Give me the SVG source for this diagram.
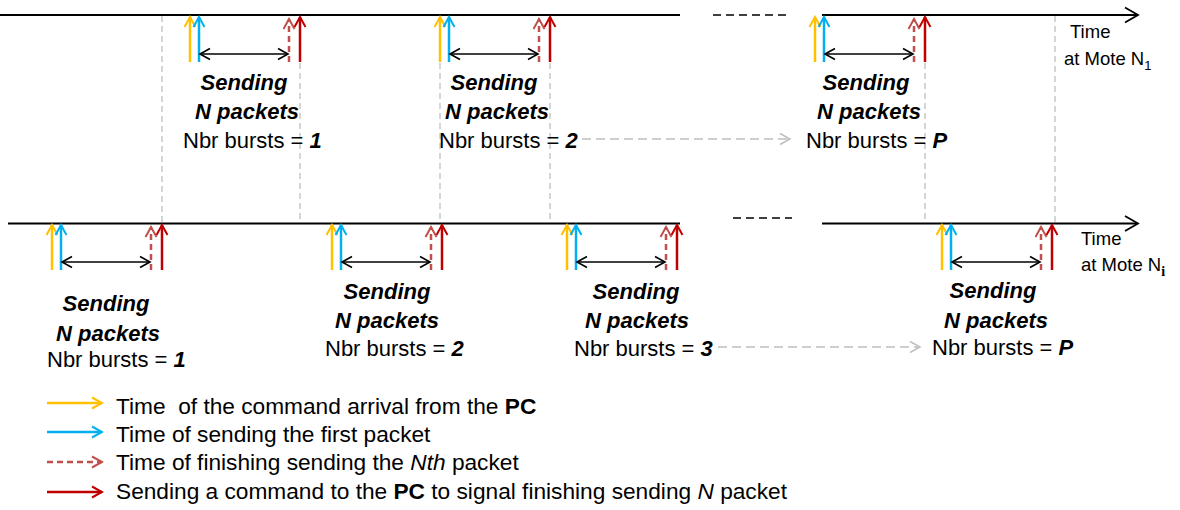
<svg xmlns="http://www.w3.org/2000/svg" xmlns:xlink="http://www.w3.org/1999/xlink" width="1180" height="510" viewBox="0 0 1180 510">
<style>
.t{font-family:"Liberation Sans",Arial,sans-serif;font-size:22px;fill:#000}
.bi{font-weight:bold;font-style:italic}
.b{font-weight:bold}
.i{font-style:italic}
.ax{font-family:"Liberation Sans",Arial,sans-serif;font-size:18.5px;fill:#000}
.leg{font-family:"Liberation Sans",Arial,sans-serif;font-size:22.7px;fill:#000;white-space:pre}
.tl{stroke:#000;stroke-width:2;fill:none}
.tld{stroke:#000;stroke-width:1.5;stroke-dasharray:8 5;fill:none}
.gv{stroke:#BFBFBF;stroke-width:1.3;stroke-dasharray:6 4;fill:none}
.ga{stroke:#BFBFBF;stroke-width:1.5;stroke-dasharray:9 5;fill:none}
.y{stroke:#FFC000;stroke-width:2.5;fill:none}
.c{stroke:#00B0F0;stroke-width:2.5;fill:none}
.rd{stroke:#C0504D;stroke-width:2.5;stroke-dasharray:6 4;fill:none}
.r{stroke:#C00000;stroke-width:2.5;fill:none}
.k{stroke:#000;stroke-width:1.6;fill:none}
</style>
<defs>
<marker id="mY" viewBox="0 0 14 14" refX="12" refY="7" markerWidth="14" markerHeight="14" markerUnits="userSpaceOnUse" orient="auto"><path d="M2,1.5 L12,7 L2,12.5" fill="none" stroke="#FFC000" stroke-width="2"/></marker>
<marker id="mC" viewBox="0 0 14 14" refX="12" refY="7" markerWidth="14" markerHeight="14" markerUnits="userSpaceOnUse" orient="auto"><path d="M2,1.5 L12,7 L2,12.5" fill="none" stroke="#00B0F0" stroke-width="2"/></marker>
<marker id="mRD" viewBox="0 0 14 14" refX="12" refY="7" markerWidth="14" markerHeight="14" markerUnits="userSpaceOnUse" orient="auto"><path d="M2,1.5 L12,7 L2,12.5" fill="none" stroke="#C0504D" stroke-width="2"/></marker>
<marker id="mR" viewBox="0 0 14 14" refX="12" refY="7" markerWidth="14" markerHeight="14" markerUnits="userSpaceOnUse" orient="auto"><path d="M2,1.5 L12,7 L2,12.5" fill="none" stroke="#C00000" stroke-width="2"/></marker>
<marker id="mK" viewBox="0 0 14 14" refX="12" refY="7" markerWidth="14" markerHeight="14" markerUnits="userSpaceOnUse" orient="auto-start-reverse"><path d="M2,1.5 L12,7 L2,12.5" fill="none" stroke="#000" stroke-width="1.6"/></marker>
<marker id="mT" viewBox="0 0 18 18" refX="16" refY="9" markerWidth="18" markerHeight="18" markerUnits="userSpaceOnUse" orient="auto"><path d="M3,1.5 L16,9 L3,16.5" fill="none" stroke="#000" stroke-width="1.8"/></marker>
<marker id="mG" viewBox="0 0 14 14" refX="12" refY="7" markerWidth="14" markerHeight="14" markerUnits="userSpaceOnUse" orient="auto"><path d="M2,1.5 L12,7 L2,12.5" fill="none" stroke="#BFBFBF" stroke-width="1.5"/></marker>
<g id="burst">
<line class="y" x1="0" y1="47" x2="0" y2="2" marker-end="url(#mY)"/>
<line class="c" x1="9" y1="47" x2="9" y2="2" marker-end="url(#mC)"/>
<line class="rd" x1="99" y1="47" x2="99" y2="4" marker-end="url(#mRD)"/>
<line class="r" x1="110" y1="47" x2="110" y2="2" marker-end="url(#mR)"/>
<line class="k" x1="10" y1="39" x2="98" y2="39" marker-start="url(#mK)" marker-end="url(#mK)"/>
</g>
</defs>

<g id="connectors">
<line class="tl" x1="0" y1="15" x2="680" y2="15"/>
<line class="tld" x1="713" y1="15" x2="790" y2="15"/>
<line class="tl" x1="822" y1="15" x2="1138" y2="15" marker-end="url(#mT)"/>
<line class="tl" x1="8" y1="223.5" x2="680" y2="223.5"/>
<line class="tld" x1="733" y1="218" x2="792" y2="218"/>
<line class="tl" x1="822" y1="223.5" x2="1138" y2="223.5" marker-end="url(#mT)"/>
<line class="gv" x1="162" y1="16" x2="162" y2="222"/>
<line class="gv" x1="300" y1="63" x2="300" y2="222"/>
<line class="gv" x1="440" y1="63" x2="440" y2="222"/>
<line class="gv" x1="550" y1="63" x2="550" y2="222"/>
<line class="gv" x1="925" y1="63" x2="925" y2="222"/>
<line class="gv" x1="1055" y1="16" x2="1055" y2="222"/>
<line class="ga" x1="582" y1="139" x2="790" y2="139" marker-end="url(#mG)"/>
<line class="ga" x1="718" y1="347" x2="920" y2="347" marker-end="url(#mG)"/>
</g>

<g id="axis-top">
<text class="ax" x="1070" y="38">Time</text>
<text class="ax" x="1064" y="65">at Mote N<tspan font-size="13" dy="5">1</tspan></text>
</g>
<g id="axis-bottom">
<text class="ax" x="1081" y="245">Time</text>
<text class="ax" x="1081" y="271">at Mote N<tspan font-size="14" dy="5" font-family="'Liberation Serif',serif" font-weight="bold">i</tspan></text>
</g>

<g id="top-burst-1">
<use href="#burst" x="190" y="15"/>
<text class="t bi" x="244" y="90" text-anchor="middle">Sending</text>
<text class="t bi" x="247" y="119" text-anchor="middle">N packets</text>
<text class="t" x="183" y="148">Nbr bursts = <tspan class="bi">1</tspan></text>
</g>
<g id="top-burst-2">
<use href="#burst" x="440" y="15"/>
<text class="t bi" x="494" y="90" text-anchor="middle">Sending</text>
<text class="t bi" x="497" y="119" text-anchor="middle">N packets</text>
<text class="t" x="439" y="148">Nbr bursts = <tspan class="bi">2</tspan></text>
</g>
<g id="top-burst-P">
<use href="#burst" x="815" y="15"/>
<text class="t bi" x="866" y="90" text-anchor="middle">Sending</text>
<text class="t bi" x="869" y="119" text-anchor="middle">N packets</text>
<text class="t" x="806" y="148">Nbr bursts = <tspan class="bi">P</tspan></text>
</g>

<g id="bottom-burst-1">
<use href="#burst" x="52" y="223"/>
<text class="t bi" x="106" y="311" text-anchor="middle">Sending</text>
<text class="t bi" x="108" y="341" text-anchor="middle">N packets</text>
<text class="t" x="47" y="367">Nbr bursts = <tspan class="bi">1</tspan></text>
</g>
<g id="bottom-burst-2">
<use href="#burst" x="332" y="223"/>
<text class="t bi" x="387" y="299" text-anchor="middle">Sending</text>
<text class="t bi" x="387" y="328" text-anchor="middle">N packets</text>
<text class="t" x="325" y="356">Nbr bursts = <tspan class="bi">2</tspan></text>
</g>
<g id="bottom-burst-3">
<use href="#burst" x="567" y="223"/>
<text class="t bi" x="636" y="299" text-anchor="middle">Sending</text>
<text class="t bi" x="637" y="328" text-anchor="middle">N packets</text>
<text class="t" x="574" y="356">Nbr bursts = <tspan class="bi">3</tspan></text>
</g>
<g id="bottom-burst-P">
<use href="#burst" x="942" y="223"/>
<text class="t bi" x="993" y="298" text-anchor="middle">Sending</text>
<text class="t bi" x="996" y="328" text-anchor="middle">N packets</text>
<text class="t" x="932" y="355">Nbr bursts = <tspan class="bi">P</tspan></text>
</g>

<g id="legend">
<line class="y" x1="47" y1="403" x2="102" y2="403" stroke-width="2" marker-end="url(#mY)"/>
<line class="c" x1="47" y1="432" x2="102" y2="432" stroke-width="2" marker-end="url(#mC)"/>
<line class="rd" x1="47" y1="462" x2="102" y2="462" stroke-width="2" marker-end="url(#mRD)"/>
<line class="r" x1="47" y1="492" x2="102" y2="492" stroke-width="2" marker-end="url(#mR)"/>
<text class="leg" x="116" y="414">Time  of the command arrival from the <tspan class="b">PC</tspan></text>
<text class="leg" x="116" y="442">Time of sending the first packet</text>
<text class="leg" x="116" y="470">Time of finishing sending the <tspan class="i">Nth</tspan> packet</text>
<text class="leg" x="116" y="499">Sending a command to the <tspan class="b">PC</tspan> to signal finishing sending <tspan class="i">N</tspan> packet</text>
</g>
</svg>
